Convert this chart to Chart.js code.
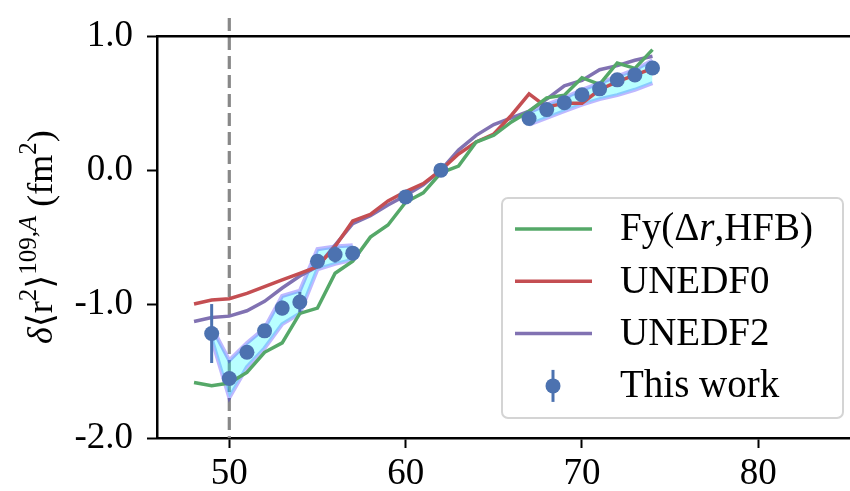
<!DOCTYPE html>
<html>
<head>
<meta charset="utf-8">
<script src="https://cdn.jsdelivr.net/npm/chart.js@4.4.1/dist/chart.umd.min.js"></script>
<style>
  html, body { margin: 0; padding: 0; background: #fff; }
  #wrap { width: 850px; height: 491px; }
</style>
</head>
<body>
<div id="wrap"><canvas id="myChart" width="850" height="491"></canvas></div>
<script>
// numero de neutrones para los calculos teoricos
const neutrones = [48, 49, 50, 51, 52, 53, 54, 55, 56, 57, 58, 59, 60, 61, 62, 63, 64, 65, 66, 67, 68, 69, 70, 71, 72, 73, 74];
const fyHFB  = [-1.585, -1.61, -1.59, -1.51, -1.36, -1.29, -1.07, -1.03, -0.77, -0.68, -0.50, -0.41, -0.24, -0.17, -0.02, 0.03, 0.21, 0.26, 0.36, 0.44, 0.54, 0.56, 0.69, 0.64, 0.80, 0.76, 0.90];
const unedf0 = [-1.00, -0.97, -0.96, -0.92, -0.87, -0.82, -0.77, -0.72, -0.57, -0.38, -0.33, -0.23, -0.16, -0.10, 0.00, 0.12, 0.21, 0.27, 0.41, 0.57, 0.47, 0.50, 0.50, 0.60, 0.66, 0.71, 0.76];
const unedf2 = [-1.13, -1.10, -1.09, -1.05, -0.98, -0.88, -0.79, -0.72, -0.56, -0.40, -0.34, -0.26, -0.19, -0.11, 0.00, 0.15, 0.26, 0.34, 0.39, 0.44, 0.53, 0.63, 0.67, 0.75, 0.78, 0.82, 0.85];

// medidas (This work)
const expN   = [49, 50, 51, 52, 53, 54, 55, 56, 57, 60, 62, 67, 68, 69, 70, 71, 72, 73, 74];
const expVal = [-1.22, -1.556, -1.36, -1.20, -1.03, -0.985, -0.68, -0.63, -0.62, -0.20, 0.00, 0.385, 0.452, 0.504, 0.563, 0.607, 0.674, 0.711, 0.763];
const expErr = [0.22, 0.03, 0.03, 0.03, 0.055, 0.075, 0.03, 0.06, 0.03, 0.02, 0.0, 0.03, 0.03, 0.03, 0.03, 0.03, 0.03, 0.03, 0.03];

// banda sombreada (dos tramos)
const banda1N    = [49, 50, 51, 52, 53, 54, 55, 56, 57];
const banda1Alto = [-1.17, -1.42, -1.29, -1.18, -0.94, -0.90, -0.59, -0.57, -0.56];
const banda1Bajo = [-1.26, -1.70, -1.47, -1.33, -1.15, -1.07, -0.74, -0.70, -0.67];
const banda2N    = [67, 68, 69, 70, 71, 72, 73, 74];
const banda2Alto = [0.43, 0.49, 0.54, 0.60, 0.65, 0.70, 0.75, 0.82];
const banda2Bajo = [0.34, 0.39, 0.44, 0.49, 0.53, 0.56, 0.60, 0.65];

const xTicks = [50, 60, 70, 80];
const yTicks = [-2, -1, 0, 1];
const lineaN = 50;

const SERIF = '"Liberation Serif", "DejaVu Serif", serif';
const verde = '#55a868', rojo = '#c44e52', morado = '#8172b2', azul = '#4c72b0';
const bandaFill = 'rgba(0, 255, 255, 0.28)';
const bandaBorde = 'rgba(40, 20, 255, 0.3)';

const pts = (xs, ys) => xs.map((x, i) => ({ x: x, y: ys[i] }));

// escribe un texto por trozos (cursiva / superindice)
function trozos(ctx, partes, x, y, base, sup) {
  const fuente = p => (p.it ? 'italic ' : '') + (p.sup ? sup : base) + 'px ' + SERIF;
  let total = 0;
  partes.forEach(p => { ctx.font = fuente(p); p.w = ctx.measureText(p.t).width; total += p.w; });
  let cx = x === null ? -total / 2 : x;
  partes.forEach(p => {
    ctx.font = fuente(p);
    ctx.fillText(p.t, cx, p.sup ? y - base * 0.45 : y);
    cx += p.w;
  });
}

// plugin: linea punteada, borde superior, barras de error, titulo y leyenda
const extras = {
  id: 'extras',
  beforeDatasetsDraw(chart) {
    const { ctx, chartArea, scales } = chart;
    const px = scales.x.getPixelForValue(lineaN);
    ctx.save();
    ctx.strokeStyle = '#888888';
    ctx.lineWidth = 3.2;
    ctx.setLineDash([13, 6]);
    ctx.beginPath();
    ctx.moveTo(px, 18);
    ctx.lineTo(px, chartArea.bottom);
    ctx.stroke();
    ctx.restore();
  },
  beforeDatasetDraw(chart, args) {
    if (chart.data.datasets[args.index].label !== 'This work') return;
    const { ctx, scales } = chart;
    ctx.save();
    ctx.strokeStyle = azul;
    ctx.lineWidth = 3;
    expN.forEach((n, i) => {
      if (!expErr[i]) return;
      const x = scales.x.getPixelForValue(n);
      ctx.beginPath();
      ctx.moveTo(x, scales.y.getPixelForValue(expVal[i] + expErr[i]));
      ctx.lineTo(x, scales.y.getPixelForValue(expVal[i] - expErr[i]));
      ctx.stroke();
    });
    ctx.restore();
  },
  afterDraw(chart) {
    const { ctx, chartArea } = chart;
    ctx.save();
    // borde superior
    ctx.strokeStyle = '#000';
    ctx.lineWidth = 2.5;
    ctx.beginPath();
    ctx.moveTo(chartArea.left - 1, chartArea.top);
    ctx.lineTo(chartArea.right, chartArea.top);
    ctx.stroke();

    // titulo del eje y con superindices
    ctx.translate(52, (chartArea.top + chartArea.bottom) / 2);
    ctx.rotate(-Math.PI / 2);
    ctx.fillStyle = '#000';
    ctx.textBaseline = 'alphabetic';
    trozos(ctx, [
      { t: 'δ', it: true }, { t: '⟨r' }, { t: '2', sup: true }, { t: '⟩' },
      { t: '109,', sup: true }, { t: 'A', sup: true, it: true },
      { t: ' (fm' }, { t: '2', sup: true }, { t: ')' }
    ], null, 0, 36, 25);
    ctx.restore();

    // leyenda
    const leg = { x: 502, y: 198, w: 341, h: 220 };
    ctx.save();
    ctx.fillStyle = 'rgba(255,255,255,0.85)';
    ctx.strokeStyle = '#d4d4d4';
    ctx.lineWidth = 2;
    ctx.beginPath();
    ctx.roundRect(leg.x, leg.y, leg.w, leg.h, 6);
    ctx.fill();
    ctx.stroke();
    const filas = chart.data.datasets.filter(d => d.enLeyenda);
    filas.forEach((d, i) => {
      const y = 229 + i * 52.3;
      if (d.label === 'This work') {
        ctx.strokeStyle = azul;
        ctx.lineWidth = 3;
        ctx.beginPath();
        ctx.moveTo(553, y - 16);
        ctx.lineTo(553, y + 16);
        ctx.stroke();
        ctx.fillStyle = azul;
        ctx.beginPath();
        ctx.arc(553, y, 7.5, 0, Math.PI * 2);
        ctx.fill();
      } else {
        ctx.strokeStyle = d.borderColor;
        ctx.lineWidth = 3.5;
        ctx.beginPath();
        ctx.moveTo(515, y);
        ctx.lineTo(592, y);
        ctx.stroke();
      }
      ctx.fillStyle = '#000';
      ctx.textBaseline = 'middle';
      if (d.label === 'Fy(Δr,HFB)') {
        trozos(ctx, [{ t: 'Fy(Δ' }, { t: 'r', it: true }, { t: ',HFB)' }], 620, y + 1, 39, 39);
      } else {
        ctx.font = '39px ' + SERIF;
        ctx.fillText(d.label, 620, y + 1);
      }
    });
    ctx.restore();
  }
};

const ctx1 = document.getElementById('myChart');
const chart1 = new Chart(ctx1, {
  type: 'line',
  data: {
    datasets: [
      { label: 'Fy(Δr,HFB)', data: pts(neutrones, fyHFB), borderColor: verde, borderWidth: 3.5, pointRadius: 0, enLeyenda: true, order: 1 },
      { label: 'UNEDF0', data: pts(neutrones, unedf0), borderColor: rojo, borderWidth: 3.5, pointRadius: 0, enLeyenda: true, order: 1 },
      { label: 'UNEDF2', data: pts(neutrones, unedf2), borderColor: morado, borderWidth: 3.5, pointRadius: 0, enLeyenda: true, order: 1 },
      {
        label: 'This work', data: pts(expN, expVal), showLine: false, enLeyenda: true,
        pointRadius: 7.5, pointHoverRadius: 7.5, pointBackgroundColor: azul, pointBorderWidth: 0,
        borderColor: azul, backgroundColor: azul, order: 0
      },
      { label: 'b1a', data: pts(banda1N, banda1Alto), borderColor: bandaBorde, backgroundColor: bandaFill, borderWidth: 4, pointRadius: 0, fill: '+1', order: 5 },
      { label: 'b1b', data: pts(banda1N, banda1Bajo), borderColor: bandaBorde, borderWidth: 4, pointRadius: 0, fill: false, order: 5 },
      { label: 'b2a', data: pts(banda2N, banda2Alto), borderColor: bandaBorde, backgroundColor: bandaFill, borderWidth: 4, pointRadius: 0, fill: '+1', order: 5 },
      { label: 'b2b', data: pts(banda2N, banda2Bajo), borderColor: bandaBorde, borderWidth: 4, pointRadius: 0, fill: false, order: 5 }
    ]
  },
  options: {
    responsive: false,
    animation: false,
    devicePixelRatio: 1,
    layout: { autoPadding: false, padding: { top: 33, right: 0, left: 0, bottom: 0 } },
    plugins: { legend: { display: false }, tooltip: { enabled: false } },
    elements: { line: { tension: 0 } },
    scales: {
      x: {
        type: 'linear', min: 45.9, max: 85.2,
        afterBuildTicks: s => { s.ticks = xTicks.map(v => ({ value: v })); },
        afterFit: s => { s.height = 53; },
        border: { color: '#000', width: 2.5 },
        grid: { drawOnChartArea: false, tickLength: 10, tickColor: '#000', tickWidth: 2 },
        ticks: { color: '#000', padding: 4, maxRotation: 0, font: { family: SERIF, size: 37 } }
      },
      y: {
        min: -2, max: 1,
        afterBuildTicks: s => { s.ticks = yTicks.map(v => ({ value: v })); },
        afterFit: s => { s.width = 157; },
        border: { color: '#000', width: 2.5 },
        grid: { drawOnChartArea: false, tickLength: 10, tickColor: '#000', tickWidth: 2 },
        ticks: { color: '#000', padding: 14, font: { family: SERIF, size: 37 }, callback: v => v.toFixed(1) }
      }
    }
  },
  plugins: [extras]
});
</script>
</body>
</html>
